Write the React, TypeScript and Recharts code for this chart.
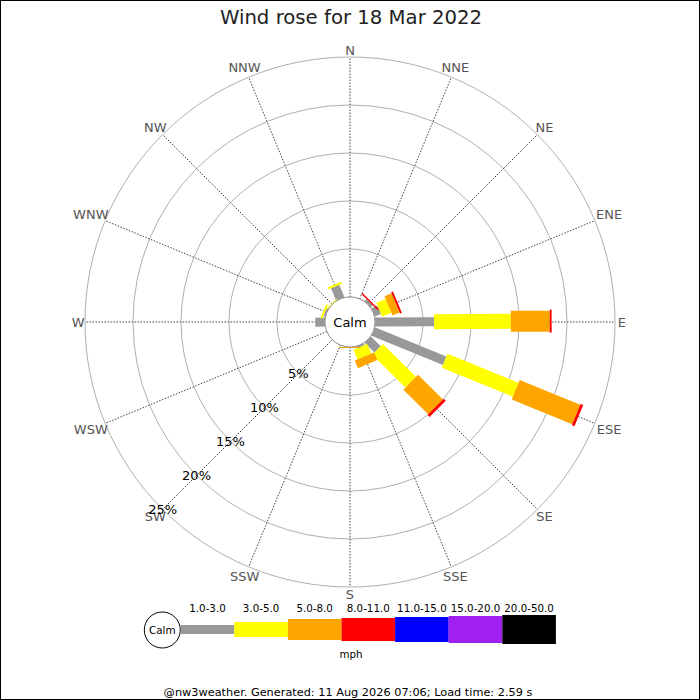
import React from "react";
import {
  RadialBarChart,
  RadialBar,
  PolarAngleAxis,
  PolarRadiusAxis,
  PolarGrid,
} from "recharts";

// compass points, clockwise from north
const directions = ["N", "NNE", "NE", "ENE", "E", "ESE", "SE", "SSE", "S", "SSW", "SW", "WSW", "W", "WNW", "NW", "NNW"];

// speed bins (mph)
const speedBins = ["1.0-3.0", "3.0-5.0", "5.0-8.0", "8.0-11.0", "11.0-15.0", "15.0-20.0", "20.0-50.0"];

// % of the day per direction, one array per speed bin
const bin1 = [0, 0, 0.3, 0.7, 6.15, 8.05, 1.45, 0.2, 0, 0, 0, 0, 1.0, 0.2, 0, 1.4];
const bin2 = [0, 0, 0, 1.05, 8.0, 8.0, 4.85, 1.1, 0, 0, 0, 0, 0, 0.2, 0.1, 0.22];
const bin3 = [0, 0, 0, 0.8, 4.05, 6.8, 3.65, 0.85, 0.1, 0, 0, 0, 0, 0, 0, 0];
const bin4 = [0, 0, 0.15, 0.2, 0.2, 0.3, 0.3, 0, 0, 0, 0, 0, 0, 0, 0, 0];
const bin5 = [0, 0, 0, 0, 0, 0, 0, 0, 0, 0, 0, 0, 0, 0, 0, 0];
const bin6 = [0, 0, 0, 0, 0, 0, 0, 0, 0, 0, 0, 0, 0, 0, 0, 0];
const bin7 = [0, 0, 0, 0, 0, 0, 0, 0, 0, 0, 0, 0, 0, 0, 0, 0];

const radiusTicks = [0, 5, 10, 15, 20, 25];

const bins = [bin1, bin2, bin3, bin4, bin5, bin6, bin7];
const binKeys = ["b1", "b2", "b3", "b4", "b5", "b6", "b7"];
const binColors = ["#999999", "#ffff00", "#ffa500", "#ff0000", "#0000ff", "#a020f0", "#000000"];
const binWidths = [9, 15, 21, 23, 25, 27, 29];

const rows = directions.map((dir, i) => {
  const row: Record<string, any> = { dir };
  binKeys.forEach((k, j) => (row[k] = bins[j][i]));
  return row;
});

const CX = 350;
const CY = 322;
const FONT = "DejaVu Sans, sans-serif";

// bar drawn as a straight strip of fixed width along the sector's mid angle
const makeShape = (w: number) => (props: any) => {
  const { cx, cy, innerRadius, outerRadius, startAngle, endAngle, fill } = props;
  if (!(outerRadius - innerRadius > 0.01)) return <g />;
  const a = (((startAngle + endAngle) / 2) * Math.PI) / 180;
  const ux = Math.cos(a);
  const uy = -Math.sin(a);
  const px = (-uy * w) / 2;
  const py = (ux * w) / 2;
  const pts = [
    [innerRadius, 1],
    [outerRadius, 1],
    [outerRadius, -1],
    [innerRadius, -1],
  ]
    .map(([r, s]) => `${cx + ux * r + s * px},${cy + uy * r + s * py}`)
    .join(" ");
  return <polygon points={pts} fill={fill} />;
};

const DirTick = (props: any) => {
  const { payload } = props;
  const label = String(payload.value);
  const idx = directions.indexOf(label);
  const a = (idx * 22.5 * Math.PI) / 180;
  const ux = Math.sin(a);
  const uy = -Math.cos(a);
  const halfW = label.length * 4.75;
  const r = 272 + (halfW - 5) * Math.abs(ux);
  return (
    <text x={CX + ux * r} y={CY + uy * r} textAnchor="middle" dominantBaseline="central" fill="#555" fontSize={13} fontFamily={FONT}>
      {label}
    </text>
  );
};

const PctTick = (props: any) => {
  const { x, y, payload } = props;
  if (payload.value === 0) return <g />;
  return (
    <text x={x} y={y} textAnchor="middle" dominantBaseline="central" fill="#000" fontSize={13} fontFamily={FONT}>
      {payload.value}%
    </text>
  );
};

const spokeAngles = directions.map((_, i) => 90 - i * 22.5);

export default function App() {
  const legX = 180.7;
  const segW = 53.6;
  const legY = 629.5;
  return (
    <div style={{ position: "relative", width: 700, height: 700, background: "#fff", fontFamily: FONT }}>
      <style>{"body{margin:0}"}</style>
      <RadialBarChart
        width={700}
        height={700}
        data={rows}
        layout="centric"
        cx={CX}
        cy={CY}
        innerRadius={25}
        outerRadius={265}
        startAngle={78.75}
        endAngle={-281.25}
        barCategoryGap={0}
        margin={{ top: 0, right: 0, bottom: 0, left: 0 }}
      >
        <PolarGrid gridType="circle" radialLines={false} polarAngles={[]} stroke="#b0b0b0" />
        <PolarGrid radialLines polarRadius={[]} polarAngles={spokeAngles} stroke="#444" strokeDasharray="1.5 1.5" />
        <PolarAngleAxis type="category" dataKey="dir" axisLine={false} tickLine={false} tick={DirTick} />
        <PolarRadiusAxis
          type="number"
          domain={[0, 25]}
          ticks={radiusTicks}
          angle={225}
          axisLine={false}
          tickLine={false}
          tick={PctTick}
        />
        {binKeys.map((k, i) => (
          <RadialBar key={k} dataKey={k} stackId="a" fill={binColors[i]} shape={makeShape(binWidths[i])} isAnimationActive={false} />
        ))}
      </RadialBarChart>

      <svg width={700} height={700} style={{ position: "absolute", left: 0, top: 0, pointerEvents: "none" }}>
        <text x={351} y={17} textAnchor="middle" dominantBaseline="central" fontSize={19.7} fill="#222" fontFamily={FONT}>
          Wind rose for 18 Mar 2022
        </text>
        <circle cx={CX} cy={CY} r={25} fill="#fff" stroke="#999" />
        <text x={CX} y={CY} textAnchor="middle" dominantBaseline="central" fontSize={13} fill="#000" fontFamily={FONT}>
          Calm
        </text>

        {/* legend */}
        <circle cx={162.3} cy={630} r={18} fill="#fff" stroke="#000" />
        <text x={162.3} y={630} textAnchor="middle" dominantBaseline="central" fontSize={10.4} fill="#000" fontFamily={FONT}>
          Calm
        </text>
        {speedBins.map((label, i) => (
          <g key={label}>
            <rect x={legX + i * segW} y={legY - binWidths[i] / 2} width={segW} height={binWidths[i]} fill={binColors[i]} />
            <text x={legX + i * segW + segW / 2} y={607.5} textAnchor="middle" dominantBaseline="central" fontSize={10.3} fill="#000" fontFamily={FONT}>
              {label}
            </text>
          </g>
        ))}
        <text x={351} y={654} textAnchor="middle" dominantBaseline="central" fontSize={10.3} fill="#000" fontFamily={FONT}>
          mph
        </text>
        <text x={348} y={692.5} textAnchor="middle" dominantBaseline="central" fontSize={11.3} fill="#000" fontFamily={FONT}>
          @nw3weather. Generated: 11 Aug 2026 07:06; Load time: 2.59 s
        </text>
      </svg>
      <div style={{ position: "absolute", left: 0, top: 0, width: 700, height: 700, border: "1px solid #000", boxSizing: "border-box", pointerEvents: "none" }} />
    </div>
  );
}
